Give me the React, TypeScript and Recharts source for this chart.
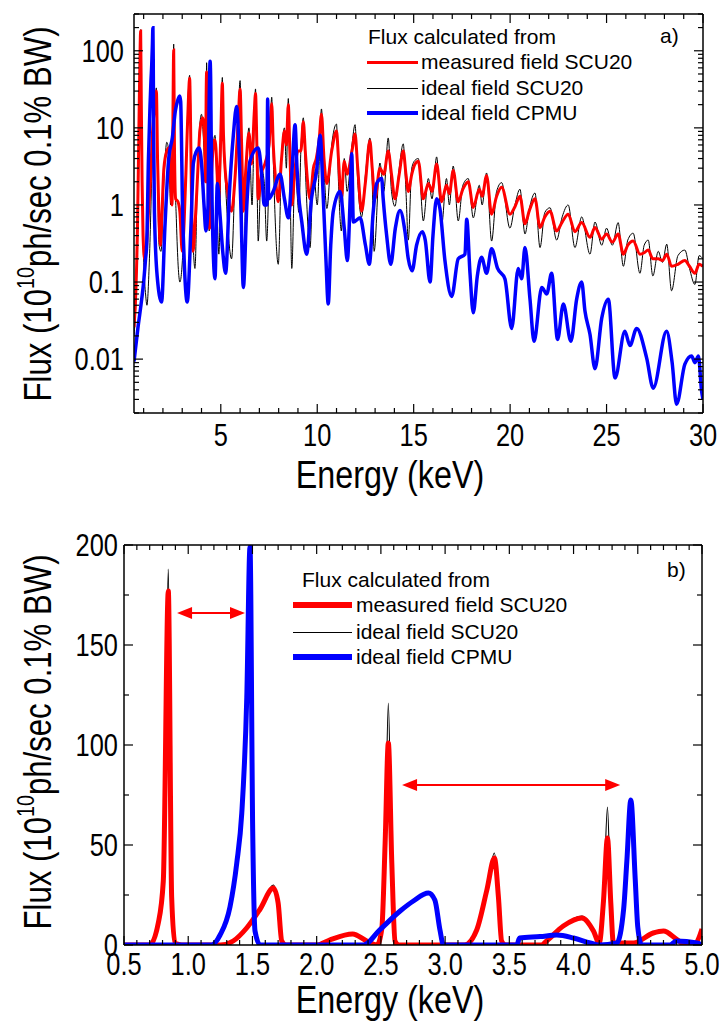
import React from 'react';
import { LineChart, Line, XAxis, YAxis, ReferenceLine } from 'recharts';

// [energy keV, flux 1e10 ph/s/0.1%BW] read off panel a) (log scale)
const measuredA: [number, number][] = [
  [0.5, 0.026], [0.6, 0.08], [0.68, 0.5], [0.75, 8], [0.8, 60], [0.845, 180], [0.88, 20], [0.92, 2], [0.97, 0.4],
  [1.05, 0.2], [1.15, 0.3], [1.25, 0.8], [1.35, 2], [1.45, 8], [1.56, 18], [1.66, 30], [1.72, 4], [1.8, 0.6],
  [1.87, 0.3], [1.95, 0.8], [2.05, 3], [2.2, 5], [2.3, 5.5], [2.4, 2], [2.47, 1], [2.51, 8], [2.558, 102], [2.6, 5],
  [2.66, 1.2], [2.78, 1.1], [2.88, 0.8], [3.0, 0.25], [3.1, 0.6], [3.2, 3], [3.25, 7.5], [3.33, 27], [3.384, 44],
  [3.42, 20], [3.47, 2], [3.56, 0.25], [3.7, 0.8], [3.8, 2.5], [3.92, 9.5], [4.06, 13.5], [4.16, 7], [4.21, 2],
  [4.24, 25], [4.265, 53], [4.3, 15], [4.35, 1.5], [4.42, 0.5], [4.52, 2.5], [4.62, 6], [4.7, 7], [4.8, 3], [4.87, 1],
  [4.95, 3], [5.0, 8], [5.08, 38], [5.14, 8], [5.22, 3], [5.35, 1.5], [5.56, 0.83], [5.75, 2.5], [5.9, 12], [6.0, 32],
  [6.08, 6], [6.17, 0.83], [6.3, 3], [6.46, 8.6], [6.6, 3.4], [6.73, 15], [6.8, 28], [6.87, 6], [6.94, 1.2], [7.1, 2.5],
  [7.3, 3.5], [7.5, 6], [7.64, 20.5], [7.72, 6], [7.85, 2], [7.98, 1.1], [8.15, 4], [8.3, 9.1], [8.4, 6], [8.5, 20],
  [8.58, 5], [8.68, 1.0], [8.85, 3], [9.0, 5], [9.15, 5], [9.28, 12], [9.38, 5], [9.5, 2], [9.63, 1.2], [9.8, 3],
  [9.95, 4], [10.1, 7], [10.22, 15], [10.35, 4], [10.5, 1.9], [10.75, 5], [11.0, 9.1], [11.1, 4], [11.25, 1.2],
  [11.4, 3.7], [11.55, 2.5], [11.8, 5], [11.96, 8.3], [12.1, 3], [12.3, 0.83], [12.5, 2], [12.73, 6.8], [12.85, 3],
  [12.99, 1.2], [13.25, 3.0], [13.45, 2.5], [13.68, 5.0], [13.85, 2.5], [14.03, 1.2], [14.25, 2.5], [14.46, 5.0],
  [14.6, 2.5], [14.72, 1.5], [14.9, 2.5], [15.07, 3.4], [15.24, 3.7], [15.5, 1.2], [15.76, 1.9], [15.95, 1.5],
  [16.19, 3.4], [16.45, 1.1], [16.7, 1.8], [16.85, 1.4], [17.05, 2.8], [17.31, 1.1], [17.55, 1.6], [17.83, 2.0],
  [18.09, 0.93], [18.4, 1.6], [18.55, 1.3], [18.78, 2.4], [19.04, 0.76], [19.3, 1.3], [19.56, 1.7], [19.99, 0.76],
  [20.25, 0.95], [20.51, 1.3], [20.77, 0.57], [21.0, 0.85], [21.29, 1.2], [21.55, 0.51], [21.8, 0.7], [22.07, 0.83],
  [22.41, 0.46], [22.7, 0.6], [23.01, 0.76], [23.36, 0.45], [23.71, 0.59], [24.14, 0.38], [24.4, 0.51], [24.75, 0.36],
  [25.0, 0.42], [25.3, 0.33], [25.6, 0.42], [25.87, 0.23], [26.1, 0.3], [26.38, 0.34], [26.73, 0.23], [26.95, 0.24],
  [27.16, 0.26], [27.4, 0.2], [27.68, 0.2], [27.9, 0.19], [28.12, 0.23], [28.37, 0.16], [28.7, 0.17], [29.06, 0.19],
  [29.3, 0.16], [29.58, 0.13], [29.8, 0.17], [30, 0.16],
];

const idealA: [number, number][] = [
  [0.5, 0.02], [0.6, 0.06], [0.68, 0.45], [0.75, 8], [0.8, 65], [0.845, 188], [0.88, 15], [0.93, 1.2], [1.0, 0.2],
  [1.1, 0.07], [1.17, 0.05], [1.3, 0.2], [1.45, 4], [1.56, 15], [1.66, 33], [1.72, 3], [1.8, 0.3], [1.9, 0.25],
  [2.05, 2], [2.2, 6.5], [2.3, 5], [2.4, 1], [2.48, 3], [2.558, 122], [2.6, 6], [2.7, 0.6], [2.88, 0.1], [3.05, 0.3],
  [3.2, 4], [3.384, 48], [3.45, 5], [3.66, 0.15], [3.8, 3], [4.0, 15], [4.15, 4], [4.21, 2], [4.265, 70], [4.32, 3],
  [4.4, 0.46], [4.55, 4], [4.7, 8], [4.9, 0.23], [5.08, 45], [5.15, 6], [5.22, 2.5], [5.56, 0.2], [5.75, 3], [5.9, 15],
  [6.0, 41], [6.08, 4], [6.17, 0.09], [6.3, 2], [6.46, 10], [6.62, 1.0], [6.75, 18], [6.8, 32], [6.87, 3], [6.94, 0.34],
  [7.1, 3], [7.25, 2], [7.38, 0.34], [7.55, 8], [7.64, 25], [7.72, 4], [7.98, 0.17], [8.15, 4], [8.3, 10], [8.4, 3],
  [8.5, 24], [8.58, 3], [8.68, 0.15], [8.85, 3], [9.05, 0.8], [9.15, 5], [9.28, 13.5], [9.38, 3], [9.63, 0.28],
  [9.8, 3], [10.0, 1], [10.22, 17.6], [10.35, 3], [10.5, 0.9], [10.75, 6], [11.0, 11.2], [11.1, 2], [11.25, 0.46],
  [11.4, 4], [11.55, 1.5], [11.8, 6], [11.96, 11], [12.1, 2], [12.3, 0.7], [12.5, 2.5], [12.73, 7.4], [12.85, 2],
  [12.95, 0.25], [13.25, 3.5], [13.45, 1.5], [13.68, 7.4], [13.85, 1.5], [14.03, 0.96], [14.25, 3], [14.46, 6.2],
  [14.6, 1.5], [14.72, 0.35], [14.9, 3], [15.07, 3.8], [15.24, 4.0], [15.5, 0.62], [15.76, 2.2], [15.95, 1.2],
  [16.19, 4.2], [16.45, 0.55], [16.7, 2.2], [16.85, 1.0], [17.05, 3.2], [17.31, 0.62], [17.55, 1.8], [17.83, 2.2],
  [18.09, 0.68], [18.4, 1.8], [18.55, 1.0], [18.78, 2.6], [19.04, 0.34], [19.3, 1.5], [19.56, 1.95], [19.99, 0.5],
  [20.25, 1.0], [20.51, 1.6], [20.77, 0.42], [21.0, 0.9], [21.29, 1.43], [21.55, 0.28], [21.8, 0.8], [22.07, 0.92],
  [22.41, 0.35], [22.7, 0.7], [23.01, 1.0], [23.36, 0.28], [23.71, 0.7], [24.14, 0.23], [24.4, 0.6], [24.75, 0.3],
  [25.0, 0.5], [25.3, 0.3], [25.6, 0.59], [25.87, 0.16], [26.1, 0.35], [26.38, 0.43], [26.73, 0.13], [26.95, 0.3],
  [27.16, 0.35], [27.4, 0.12], [27.68, 0.25], [27.9, 0.18], [28.12, 0.31], [28.37, 0.077], [28.7, 0.22], [29.06, 0.26],
  [29.3, 0.15], [29.58, 0.093], [29.8, 0.22], [30, 0.2],
];

const cpmuA: [number, number][] = [
  [0.5, 0.0093], [0.7, 0.025], [0.9, 0.06], [1.0, 0.1], [1.1, 0.2], [1.16, 0.31], [1.25, 4], [1.33, 19], [1.38, 41],
  [1.42, 66], [1.456, 124], [1.481, 199], [1.5, 57], [1.52, 7], [1.56, 0.8], [1.7, 0.12], [1.93, 0.055], [2.1, 0.5],
  [2.3, 4], [2.49, 7.5], [2.65, 17], [2.75, 22], [2.87, 26], [2.92, 22], [2.96, 7.5], [3.0, 1.5], [3.1, 0.2],
  [3.26, 0.055], [3.45, 0.5], [3.58, 3.5], [3.74, 5], [3.87, 5.5], [4.0, 3.5], [4.13, 1.0], [4.23, 0.46], [4.34, 1],
  [4.39, 18], [4.415, 42], [4.446, 73], [4.48, 33], [4.5, 9], [4.55, 1], [4.7, 0.11], [4.82, 1.9], [4.95, 0.8],
  [5.1, 0.25], [5.25, 0.13], [5.45, 1.5], [5.65, 8], [5.82, 19], [5.95, 5], [6.05, 0.8], [6.17, 0.085], [6.35, 1],
  [6.51, 3.7], [6.94, 5.5], [7.15, 2], [7.25, 1.0], [7.39, 1.0], [7.43, 23.6], [7.48, 1.2], [7.72, 1.5], [8.07, 2.5],
  [8.3, 1.2], [8.5, 0.68], [8.7, 3], [8.85, 11], [8.95, 3], [9.02, 1.5], [9.2, 0.6], [9.45, 0.23], [9.7, 1.2],
  [9.97, 2.8], [10.15, 8], [10.3, 1.5], [10.45, 0.2], [10.57, 0.052], [10.7, 0.3], [10.83, 0.83], [11.18, 1.5],
  [11.4, 0.5], [11.56, 0.19], [11.72, 1.5], [11.79, 4.6], [11.87, 0.6], [12.22, 0.68], [12.5, 0.3], [12.7, 0.17],
  [12.9, 0.8], [13.08, 1.9], [13.34, 2.2], [13.42, 1.2], [13.6, 0.4], [13.81, 0.17], [14.05, 0.5], [14.29, 0.85],
  [14.55, 0.45], [14.72, 0.2], [14.92, 0.14], [15.15, 0.3], [15.45, 0.45], [15.6, 0.35], [15.85, 0.1], [16.0, 0.4],
  [16.19, 1.2], [16.36, 0.9], [16.62, 0.19], [16.97, 0.065], [17.31, 0.2], [17.66, 0.23], [17.75, 0.65], [17.92, 0.13],
  [18.09, 0.04], [18.3, 0.12], [18.52, 0.21], [18.78, 0.13], [19.04, 0.27], [19.35, 0.15], [19.73, 0.11], [20.08, 0.025],
  [20.42, 0.15], [20.6, 0.11], [20.77, 0.28], [21.03, 0.06], [21.24, 0.017], [21.64, 0.085], [21.9, 0.07], [22.15, 0.13],
  [22.46, 0.018], [22.76, 0.052], [23.15, 0.017], [23.45, 0.06], [23.71, 0.1], [23.88, 0.042], [24.14, 0.021],
  [24.4, 0.0075], [24.75, 0.034], [25.09, 0.06], [25.44, 0.0057], [25.95, 0.023], [26.21, 0.015], [26.56, 0.025],
  [27.08, 0.0103], [27.42, 0.0042], [28.11, 0.023], [28.4, 0.009], [28.63, 0.0026], [29.06, 0.0086], [29.41, 0.011],
  [29.58, 0.009], [29.76, 0.011], [29.93, 0.0038], [30, 0.003],
];

// panel b), linear scale, 0.5 - 5 keV
const measuredB: [number, number][] = [
  [0.5, 0], [0.7, 0], [0.767, 11], [0.806, 32], [0.845, 177], [0.871, 24], [0.897, 1], [0.95, 0], [1.25, 0], [1.35, 2],
  [1.455, 8.5], [1.56, 18], [1.663, 28.5], [1.7, 21], [1.728, 2], [1.76, 0], [2.0, 0], [2.1, 2.5], [2.28, 5.5],
  [2.39, 2], [2.47, 0], [2.507, 8], [2.533, 51], [2.558, 101], [2.585, 41], [2.61, 2], [2.64, 0], [3.15, 0],
  [3.246, 7.5], [3.325, 27.5], [3.384, 43.5], [3.415, 24], [3.44, 2], [3.47, 0], [3.75, 0], [3.79, 2], [3.92, 9.5],
  [4.065, 13.5], [4.155, 7], [4.2, 1], [4.233, 22], [4.264, 53.5], [4.29, 21], [4.31, 1], [4.467, 1], [4.62, 6],
  [4.7, 7], [4.8, 3], [4.87, 0], [4.95, 1], [5.0, 8],
];

const idealB: [number, number][] = [
  [0.5, 0], [0.7, 0], [0.767, 9], [0.806, 30], [0.845, 188], [0.871, 20], [0.897, 1], [0.95, 0], [1.25, 0], [1.35, 2],
  [1.455, 8.5], [1.56, 18], [1.663, 30], [1.7, 20], [1.728, 2], [1.76, 0], [2.0, 0], [2.1, 2.5], [2.28, 6],
  [2.39, 2], [2.47, 0], [2.507, 6], [2.533, 45], [2.558, 121], [2.585, 35], [2.61, 2], [2.64, 0], [3.15, 0],
  [3.246, 7.5], [3.325, 28], [3.384, 46], [3.415, 24], [3.44, 2], [3.47, 0], [3.75, 0], [3.79, 2], [3.92, 10],
  [4.065, 14.5], [4.155, 7], [4.2, 1], [4.233, 20], [4.264, 69], [4.29, 18], [4.31, 1], [4.467, 1], [4.62, 6.5],
  [4.7, 7.5], [4.8, 3], [4.87, 0], [4.95, 1], [5.0, 8],
];

const cpmuB: [number, number][] = [
  [0.5, 0], [1.183, 0], [1.248, 5], [1.325, 19], [1.378, 41], [1.417, 66], [1.456, 124], [1.481, 199], [1.502, 57],
  [1.52, 7], [1.56, 0], [2.364, 0], [2.49, 7.5], [2.65, 17], [2.753, 22], [2.87, 26], [2.92, 22.5], [2.96, 7.5],
  [2.987, 0], [3.558, 0], [3.58, 3.5], [3.74, 4.2], [3.87, 5], [4.0, 3.5], [4.13, 1], [4.2, 0], [4.337, 1],
  [4.39, 18], [4.415, 42], [4.446, 72.5], [4.48, 33], [4.5, 9], [4.53, 0], [4.75, 0], [4.8, 2], [4.96, 1], [5.0, 0],
];

// arrows in panel b): from / to energy, at flux level
const arrowsB = [
  { from: 0.913, to: 1.442, level: 166 },
  { from: 2.665, to: 4.363, level: 80 },
];

const legendNames = ['measured field SCU20', 'ideal field SCU20', 'ideal field CPMU'];

const xTicksA = [1, 2, 3, 4, 5, 6, 7, 8, 9, 10, 11, 12, 13, 14, 15, 16, 17, 18, 19, 20, 21, 22, 23, 24, 25, 26, 27, 28, 29, 30];
const xMajorA = [5, 10, 15, 20, 25, 30];
const yTicksA = [
  0.002, 0.003, 0.004, 0.005, 0.006, 0.007, 0.008, 0.009,
  0.01, 0.02, 0.03, 0.04, 0.05, 0.06, 0.07, 0.08, 0.09,
  0.1, 0.2, 0.3, 0.4, 0.5, 0.6, 0.7, 0.8, 0.9,
  1, 2, 3, 4, 5, 6, 7, 8, 9,
  10, 20, 30, 40, 50, 60, 70, 80, 90,
  100, 200, 300,
];
const yMajorA = [0.01, 0.1, 1, 10, 100];

const xTicksB = [
  0.5, 0.6, 0.7, 0.8, 0.9, 1.0, 1.1, 1.2, 1.3, 1.4, 1.5, 1.6, 1.7, 1.8, 1.9, 2.0, 2.1, 2.2, 2.3, 2.4, 2.5,
  2.6, 2.7, 2.8, 2.9, 3.0, 3.1, 3.2, 3.3, 3.4, 3.5, 3.6, 3.7, 3.8, 3.9, 4.0, 4.1, 4.2, 4.3, 4.4, 4.5, 4.6,
  4.7, 4.8, 4.9, 5.0,
];
const xMajorB = [0.5, 1.0, 1.5, 2.0, 2.5, 3.0, 3.5, 4.0, 4.5, 5.0];
const yTicksB = [0, 25, 50, 75, 100, 125, 150, 175, 200];
const yMajorB = [0, 50, 100, 150, 200];

const RED = '#ff0000';
const BLUE = '#0000ff';
const ARIAL = "'Liberation Sans', Arial, sans-serif";
// the original uses a condensed face; squeeze Arial horizontally instead
const SQUEEZE = 0.82;

const pts = (arr: [number, number][]) => arr.map(([e, f]) => ({ e, f }));

type Side = 'bottom' | 'top' | 'left' | 'right';

// inward ticks, long for majors; labels only on majors
function makeTick(side: Side, majors: number[], fmt?: (v: number) => string, gap = 0, fontSize = 31) {
  const isMajor = (v: number) => majors.some((m) => Math.abs(m - v) < 1e-9);
  return (props: any) => {
    const { x, y, payload } = props;
    const v = payload.value;
    const len = isMajor(v) ? 9 : 5;
    let x2 = x;
    let y2 = y;
    if (side === 'bottom') y2 = y - len;
    if (side === 'top') y2 = y + len;
    if (side === 'left') x2 = x + len;
    if (side === 'right') x2 = x - len;
    const label = fmt && isMajor(v);
    return (
      <g>
        <line x1={x} y1={y} x2={x2} y2={y2} stroke="#000" strokeWidth={1.2} />
        {label && side === 'bottom' && (
          <text
            transform={`translate(${x},${y + gap}) scale(${SQUEEZE},1)`}
            textAnchor="middle" fontFamily={ARIAL} fontSize={fontSize} fill="#000"
          >
            {fmt!(v)}
          </text>
        )}
        {label && side === 'left' && (
          <text
            transform={`translate(${x - gap},${y}) scale(${SQUEEZE},1)`}
            textAnchor="end" dominantBaseline="central" fontFamily={ARIAL} fontSize={fontSize} fill="#000"
          >
            {fmt!(v)}
          </text>
        )}
      </g>
    );
  };
}

const fluxTitle = (cx: number, cy: number) => () => (
  <text
    transform={`translate(${cx},${cy}) rotate(-90) scale(${SQUEEZE},1)`}
    textAnchor="middle"
    dominantBaseline="central"
    fontFamily={ARIAL}
    fontSize={38}
    fill="#000"
  >
    Flux (10<tspan dy={-13} fontSize={24}>10</tspan>
    <tspan dy={13}>ph/sec 0.1% BW)</tspan>
  </text>
);

const energyTitle = (cx: number, baseline: number) => () => (
  <text
    transform={`translate(${cx},${baseline}) scale(0.85,1)`}
    textAnchor="middle" fontFamily={ARIAL} fontSize={38} fill="#000"
  >
    Energy (keV)
  </text>
);

const arrowShape = (p: any) => {
  const { x1, y1, x2 } = p;
  const l = Math.min(x1, x2);
  const r = Math.max(x1, x2);
  const h = 15;
  const w = 6;
  return (
    <g>
      <line x1={l + h - 2} y1={y1} x2={r - h + 2} y2={y1} stroke={RED} strokeWidth={2} />
      <polygon points={`${l},${y1} ${l + h},${y1 - w} ${l + h},${y1 + w}`} fill={RED} />
      <polygon points={`${r},${y1} ${r - h},${y1 - w} ${r - h},${y1 + w}`} fill={RED} />
    </g>
  );
};

type LegendLayout = {
  titleX: number;
  titleY: number;
  lineX: number;
  lineW: number;
  textGap: number;
  rows: number[];
  widths: number[];
  tag: string;
  tagX: number;
  tagY: number;
};

function LegendOverlay({ L }: { L: LegendLayout }) {
  const colors = [RED, '#000', BLUE];
  const base: React.CSSProperties = {
    position: 'absolute',
    fontFamily: ARIAL,
    fontSize: 21,
    lineHeight: '24px',
    whiteSpace: 'nowrap',
    color: '#000',
  };
  return (
    <>
      <div style={{ ...base, left: L.titleX, top: L.titleY - 12 }}>Flux calculated from</div>
      {legendNames.map((name, i) => (
        <div
          key={name}
          style={{ ...base, left: L.lineX, top: L.rows[i] - 12, height: 24, display: 'flex', alignItems: 'center' }}
        >
          <span style={{ display: 'inline-block', width: L.lineW, height: L.widths[i], background: colors[i] }} />
          <span style={{ marginLeft: L.textGap }}>{name}</span>
        </div>
      ))}
      <div style={{ ...base, left: L.tagX, top: L.tagY - 12 }}>{L.tag}</div>
    </>
  );
}

const legendA: LegendLayout = {
  titleX: 368, titleY: 37, lineX: 367, lineW: 51, textGap: 3, rows: [62, 88, 113], widths: [3, 1, 3.5],
  tag: 'a)', tagX: 660, tagY: 36,
};
const legendB: LegendLayout = {
  titleX: 302, titleY: 72, lineX: 293, lineW: 59, textGap: 4, rows: [97, 124, 149], widths: [6, 1, 6],
  tag: 'b)', tagX: 667, tagY: 62,
};

const axisLine = { stroke: '#000', strokeWidth: 1.5 };

function PanelA() {
  return (
    <div style={{ position: 'relative', width: 719, height: 508 }}>
      <LineChart width={719} height={508} margin={{ top: 0, right: 0, bottom: 0, left: 0 }}>
        <XAxis
          dataKey="e" type="number" domain={[0.5, 30]} allowDataOverflow ticks={xTicksA} interval={0}
          height={95} tickSize={0} tickMargin={0} tickLine={false} axisLine={axisLine}
          tick={makeTick('bottom', xMajorA, (v) => String(v), 33)}
          label={energyTitle(390, 488)}
        />
        <XAxis
          xAxisId="top" orientation="top" dataKey="e" type="number" domain={[0.5, 30]} allowDataOverflow
          ticks={xTicksA} interval={0} height={14} tickSize={0} tickMargin={0} tickLine={false} axisLine={axisLine}
          tick={makeTick('top', xMajorA)}
        />
        <YAxis
          scale="log" type="number" domain={[0.002, 300]} allowDataOverflow ticks={yTicksA} interval={0}
          width={134} tickSize={0} tickMargin={0} tickLine={false} axisLine={axisLine}
          tick={makeTick('left', yMajorA, (v) => String(v), 10)}
          label={fluxTitle(38, 214)}
        />
        <YAxis
          yAxisId="right" orientation="right" scale="log" type="number" domain={[0.002, 300]} allowDataOverflow
          ticks={yTicksA} interval={0} width={16} tickSize={0} tickMargin={0} tickLine={false} axisLine={axisLine}
          tick={makeTick('right', yMajorA)}
        />
        <Line data={pts(idealA)} dataKey="f" type="monotone" stroke="#000" strokeWidth={1} dot={false} activeDot={false} isAnimationActive={false} />
        <Line data={pts(measuredA)} dataKey="f" type="monotone" stroke={RED} strokeWidth={3} dot={false} activeDot={false} isAnimationActive={false} />
        <Line data={pts(cpmuA)} dataKey="f" type="monotone" stroke={BLUE} strokeWidth={3.5} dot={false} activeDot={false} isAnimationActive={false} />
      </LineChart>
      <LegendOverlay L={legendA} />
    </div>
  );
}

function PanelB() {
  return (
    <div style={{ position: 'relative', width: 719, height: 515 }}>
      <LineChart width={719} height={515} margin={{ top: 0, right: 0, bottom: 0, left: 0 }}>
        <XAxis
          dataKey="e" type="number" domain={[0.5, 5]} allowDataOverflow ticks={xTicksB} interval={0}
          height={78} tickSize={0} tickMargin={0} tickLine={false} axisLine={axisLine}
          tick={makeTick('bottom', xMajorB, (v) => v.toFixed(1), 30)}
          label={energyTitle(390, 505)}
        />
        <XAxis
          xAxisId="top" orientation="top" dataKey="e" type="number" domain={[0.5, 5]} allowDataOverflow
          ticks={xTicksB} interval={0} height={37} tickSize={0} tickMargin={0} tickLine={false} axisLine={axisLine}
          tick={makeTick('top', xMajorB)}
        />
        <YAxis
          type="number" domain={[0, 200]} allowDataOverflow ticks={yTicksB} interval={0}
          width={124} tickSize={0} tickMargin={0} tickLine={false} axisLine={axisLine}
          tick={makeTick('left', yMajorB, (v) => String(v), 6)}
          label={fluxTitle(38, 234)}
        />
        <YAxis
          yAxisId="right" orientation="right" type="number" domain={[0, 200]} allowDataOverflow ticks={yTicksB}
          interval={0} width={17} tickSize={0} tickMargin={0} tickLine={false} axisLine={axisLine}
          tick={makeTick('right', yMajorB)}
        />
        <Line data={pts(idealB)} dataKey="f" type="monotone" stroke="#000" strokeWidth={1.2} dot={false} activeDot={false} isAnimationActive={false} />
        <Line data={pts(measuredB)} dataKey="f" type="monotone" stroke={RED} strokeWidth={5} dot={false} activeDot={false} isAnimationActive={false} />
        <Line data={pts(cpmuB)} dataKey="f" type="monotone" stroke={BLUE} strokeWidth={5} dot={false} activeDot={false} isAnimationActive={false} />
        {arrowsB.map((a) => (
          <ReferenceLine
            key={a.from}
            segment={[{ x: a.from, y: a.level }, { x: a.to, y: a.level }]}
            shape={arrowShape}
          />
        ))}
      </LineChart>
      <LegendOverlay L={legendB} />
    </div>
  );
}

export default function App() {
  return (
    <div style={{ position: 'fixed', left: 0, top: 0, width: 719, height: 1023, background: '#fff' }}>
      <PanelA />
      <PanelB />
    </div>
  );
}
